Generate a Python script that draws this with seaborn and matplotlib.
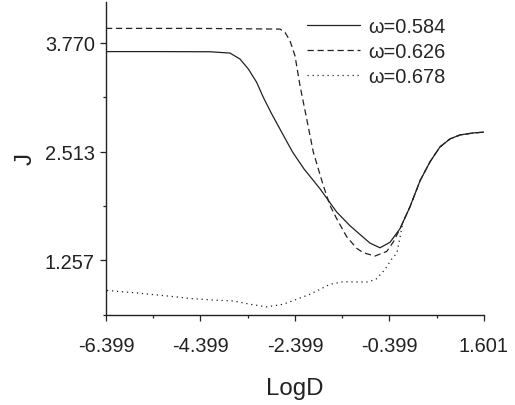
import numpy as np
import pandas as pd
import seaborn as sns
import matplotlib.pyplot as plt

# --------------------------
# Data
# --------------------------
x_584 = [-6.399, -5.256, -4.198, -3.775, -3.563, -3.387, -3.210, -3.070, -2.892, -2.681,
         -2.452, -2.209, -1.870, -1.516, -1.235, -1.023, -0.811, -0.600, -0.388, -0.177,
         0.035, 0.247, 0.458, 0.670, 0.881, 1.093, 1.389, 1.601]
j_584 = [3.668, 3.668, 3.666, 3.651, 3.582, 3.467, 3.313, 3.140, 2.948, 2.737,
         2.509, 2.313, 2.083, 1.814, 1.656, 1.555, 1.455, 1.401, 1.465, 1.621,
         1.875, 2.175, 2.394, 2.567, 2.659, 2.705, 2.729, 2.737]

x_626 = [-6.399, -4.410, -2.716, -2.610, -2.505, -2.399, -2.293, -2.151, -2.012, -1.906,
         -1.800, -1.658, -1.516, -1.305, -1.093, -0.954, -0.706, -0.458, -0.319, -0.177,
         0.035, 0.247, 0.458, 0.670, 0.881, 1.093, 1.389, 1.601]
j_626 = [3.936, 3.936, 3.928, 3.890, 3.793, 3.620, 3.274, 2.890, 2.509, 2.313,
         2.121, 1.890, 1.737, 1.529, 1.395, 1.344, 1.306, 1.359, 1.468, 1.621,
         1.875, 2.175, 2.394, 2.567, 2.659, 2.705, 2.729, 2.737]

x_678 = [-6.378, -5.828, -5.108, -4.558, -4.050, -3.705, -3.351, -2.998, -2.647, -2.363,
         -2.082, -1.870, -1.658, -1.377, -1.093, -0.848, -0.670, -0.494, -0.367, -0.240,
         -0.113, 0.035, 0.247, 0.458, 0.670, 0.881, 1.093, 1.389, 1.601]
j_678 = [0.908, 0.883, 0.845, 0.813, 0.795, 0.787, 0.749, 0.718, 0.749, 0.806,
         0.864, 0.922, 0.979, 1.009, 1.006, 1.006, 1.044, 1.152, 1.260, 1.344,
         1.700, 1.875, 2.175, 2.394, 2.567, 2.659, 2.705, 2.729, 2.737]

labels = ["\u03c9=0.584", "\u03c9=0.626", "\u03c9=0.678"]
styles = ["-", (0, (5, 3)), (0, (1, 3))]

x_major = [-6.399, -4.399, -2.399, -0.399, 1.601]
x_minor = [-5.399, -3.399, -1.399, 0.601]
y_major = [1.257, 2.513, 3.770]
y_minor = [0.628, 1.885, 3.142]

# --------------------------
# Plot
# --------------------------
sns.set_style("ticks")
plt.rcParams['font.family'] = ['Liberation Sans', 'DejaVu Sans']

fig = plt.figure(figsize=(5.15, 4.06), dpi=100)
ax = fig.add_axes([0.2058, 0.2224, 0.734, 0.770])

series = [(x_584, j_584), (x_626, j_626), (x_678, j_678)]
for (xs, ys), lab, ls in zip(series, labels, styles):
    df = pd.DataFrame({"LogD": xs, "J": ys})
    sns.lineplot(data=df, x="LogD", y="J", ax=ax, color="#222222",
                 linewidth=0.9, linestyle=ls, label=lab, sort=False)

ax.set_xlim(-6.399, 1.601)
ax.set_ylim(0.628, 4.24)
ax.set_xticks(x_major)
ax.set_xticks(x_minor, minor=True)
ax.set_yticks(y_major)
ax.set_yticks(y_minor, minor=True)
ax.set_xticklabels([f"{v:.3f}" for v in x_major])
ax.set_yticklabels([f"{v:.3f}" for v in y_major])

ax.tick_params(axis="both", which="major", labelsize=14.4, length=4.5,
               width=0.9, colors="#222222", direction="out")
ax.tick_params(axis="both", which="minor", length=2.5, width=0.9,
               colors="#222222", direction="out")
ax.tick_params(axis="x", which="major", pad=11)

ax.set_xlabel("LogD", fontsize=17.3, labelpad=16, color="#222222")
ax.set_ylabel("J", fontsize=17.3, labelpad=6, color="#222222")

sns.despine(ax=ax)
for sp in ["left", "bottom"]:
    ax.spines[sp].set_linewidth(1.0)
    ax.spines[sp].set_color("#222222")

leg = ax.legend(loc="upper left", bbox_to_anchor=(0.532, 0.953), frameon=False,
                fontsize=14.4, handlelength=2.65, handletextpad=0.4,
                labelspacing=0.3, borderpad=0, borderaxespad=0)
for line in leg.get_lines():
    line.set_linewidth(0.9)

fig.savefig("out.png", dpi=100)
